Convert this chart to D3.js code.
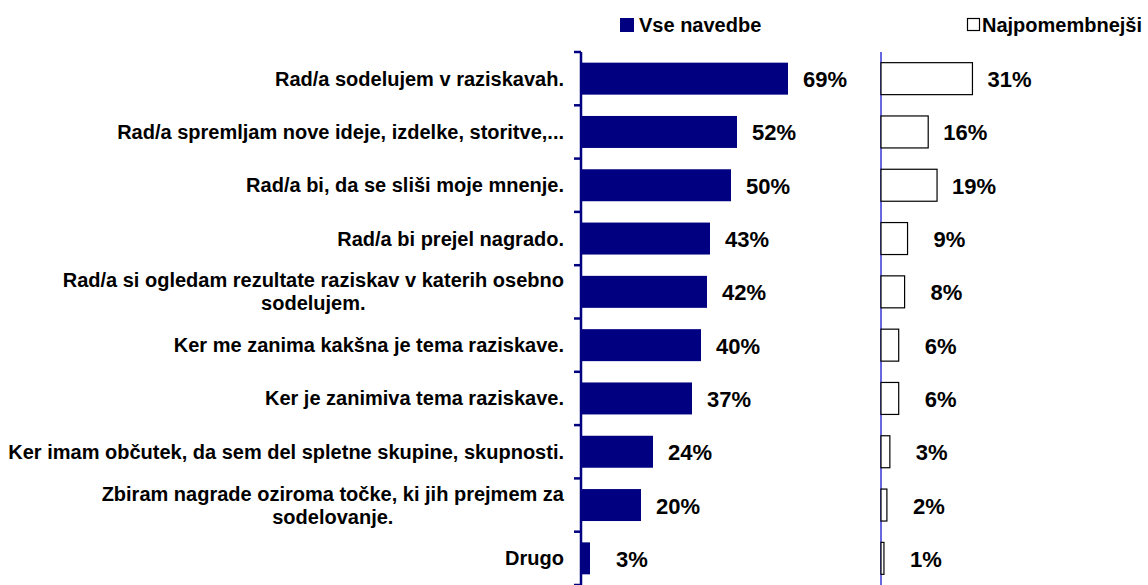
<!DOCTYPE html>
<html>
<head>
<meta charset="utf-8">
<script src="https://cdn.jsdelivr.net/npm/d3@7"></script>
<style>
  html, body { margin: 0; padding: 0; background: #fff; }
  svg { display: block; font-family: "Liberation Sans", Arial, sans-serif; font-weight: bold; }
</style>
</head>
<body>
<svg id="chart" width="1148" height="585"></svg>
<script>
// Reasons for taking part in online surveys (share of respondents)
const categories = [
  "Rad/a sodelujem v raziskavah.",
  "Rad/a spremljam nove ideje, izdelke, storitve,...",
  "Rad/a bi, da se sliši moje mnenje.",
  "Rad/a bi prejel nagrado.",
  "Rad/a si ogledam rezultate raziskav v katerih osebno\nsodelujem.",
  "Ker me zanima kakšna je tema raziskave.",
  "Ker je zanimiva tema raziskave.",
  "Ker imam občutek, da sem del spletne skupine, skupnosti.",
  "Zbiram nagrade oziroma točke, ki jih prejmem za\nsodelovanje.",
  "Drugo"
];
const seriesNames = ["Vse navedbe", "Najpomembnejši"];
const allMentions = [69, 52, 50, 43, 42, 40, 37, 24, 20, 3];
const mostImportant = [31, 16, 19, 9, 8, 6, 6, 3, 2, 1];

const navy = "#000080";
const svg = d3.select("#chart");

const y = d3.scaleBand()
  .domain(d3.range(categories.length))
  .range([52, 585])
  .paddingInner(0.4)
  .paddingOuter(0.2);

const xLeft = d3.scaleLinear().domain([0, 100]).range([581, 881]);
const xRight = d3.scaleLinear().domain([0, 100]).range([881, 1176]);

// Left axis: line plus ticks between categories
const step = y.step();
const tickYs = d3.range(categories.length + 1).map(i => 52 + i * step);
svg.append("line")
  .attr("x1", xLeft(0)).attr("x2", xLeft(0))
  .attr("y1", 52).attr("y2", 585)
  .attr("stroke", navy).attr("stroke-width", 2.5);
svg.selectAll("line.tick").data(tickYs).join("line")
  .attr("class", "tick")
  .attr("x1", xLeft(0) - 7).attr("x2", xLeft(0))
  .attr("y1", d => d).attr("y2", d => d)
  .attr("stroke", navy).attr("stroke-width", 2.5);

// Right axis line
svg.append("line")
  .attr("x1", xRight(0)).attr("x2", xRight(0))
  .attr("y1", 52).attr("y2", 585)
  .attr("stroke", "#0000c8").attr("stroke-width", 1.2);

// Category labels: block right-aligned at the axis, lines centred inside it
const labels = svg.append("g").attr("font-size", 20).attr("fill", "#000");
const labelRight = 564;
const lineHeight = 23;
categories.forEach((c, i) => {
  const lines = c.split("\n");
  const t = labels.append("text").attr("text-anchor", "middle");
  const cy = y(i) + y.bandwidth() / 2;
  const firstBase = cy + 7 - (lines.length - 1) * lineHeight / 2;
  const spans = t.selectAll("tspan").data(lines).join("tspan")
    .attr("x", 0)
    .attr("y", (d, k) => firstBase + k * lineHeight)
    .text(d => d);
  const w = d3.max(spans.nodes(), n => n.getComputedTextLength());
  spans.attr("x", labelRight - w / 2);
});

// Bars
svg.selectAll("rect.all").data(allMentions).join("rect")
  .attr("class", "all")
  .attr("x", xLeft(0))
  .attr("y", (d, i) => y(i))
  .attr("width", d => xLeft(d) - xLeft(0))
  .attr("height", y.bandwidth())
  .attr("fill", navy);

svg.selectAll("rect.top").data(mostImportant).join("rect")
  .attr("class", "top")
  .attr("x", xRight(0))
  .attr("y", (d, i) => y(i))
  .attr("width", d => xRight(d) - xRight(0))
  .attr("height", y.bandwidth())
  .attr("fill", "#fff")
  .attr("stroke", "#000")
  .attr("stroke-width", 1.2);

// Value labels
function valueLabels(data, scale, cls) {
  svg.selectAll("text." + cls).data(data).join("text")
    .attr("class", cls)
    .attr("font-size", 22)
    .attr("fill", "#000")
    .attr("x", d => scale(d) + 15 + (3 - (d + "%").length) * 11)
    .attr("y", (d, i) => y(i) + y.bandwidth() / 2 + 8.5)
    .text(d => d + "%");
}
valueLabels(allMentions, xLeft, "vl");
valueLabels(mostImportant, xRight, "vr");

// Legend
const legend = svg.append("g").attr("font-size", 20);
legend.append("rect").attr("x", 620).attr("y", 18).attr("width", 14).attr("height", 14).attr("fill", navy);
legend.append("text").attr("x", 639).attr("y", 32).text(seriesNames[0]);
legend.append("rect").attr("x", 967.5).attr("y", 18.5).attr("width", 12).attr("height", 12)
  .attr("fill", "#fff").attr("stroke", "#000").attr("stroke-width", 1.2);
legend.append("text").attr("x", 982).attr("y", 32).text(seriesNames[1]);
</script>
</body>
</html>
